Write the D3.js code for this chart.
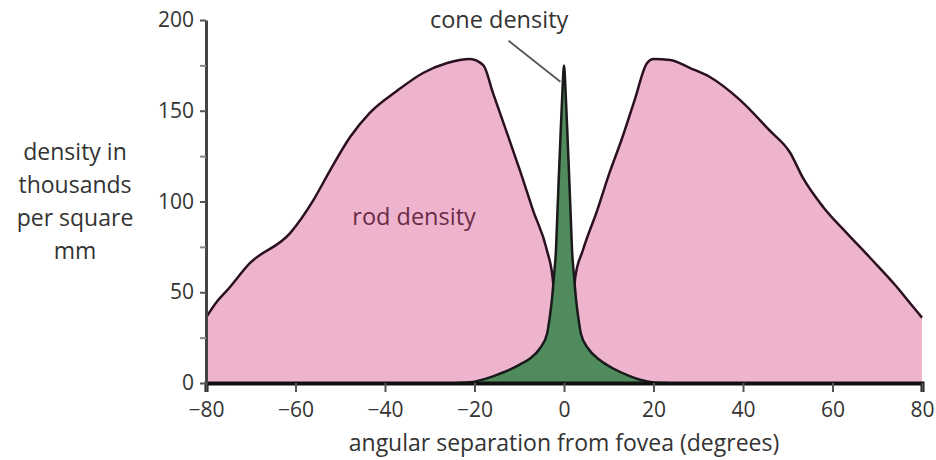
<!DOCTYPE html>
<html>
<head>
<meta charset="utf-8">
<script src="https://cdn.jsdelivr.net/npm/d3@7"></script>
<style>
  body { margin: 0; background: #fff; }
  text { font-family: "Open Sans", "Noto Sans", sans-serif; }
</style>
</head>
<body>
<div id="chart-area"></div>
<script>

// rod density (thousands per square mm) against angle from fovea (degrees)
var rodX = [-80, -77.5, -75.3, -70.2, -61.2, -56, -52.3, -47.8, -43.4, -37.3, -31.5, -26.1, -21,
            -18, -15.9, -13.2, -9.7, -6.9, -3.8, -2.5, -2, -1.2, 0,
            1.2, 2, 2.5, 4.2, 7.4, 10.2, 13, 15.8, 18.5, 20, 23.7, 28.2, 32.6, 39.3, 46, 50.5, 53.4, 57.9, 63.2, 68.4, 74, 78, 80];
var rodY = [36, 45, 51, 66, 82.6, 100.8, 117, 135.5, 148.8, 161, 170.8, 176.3, 178.5,
            175, 160, 141, 116, 95, 73, 57, 40, 15, 0,
            15, 40, 58, 73, 95, 116, 135, 156, 176, 178.5, 178, 173.5, 168.6, 156, 139, 127, 113, 97, 82.6, 69, 54, 42, 36];

// cone density
var coneX = [-24, -21, -18, -15, -12, -10, -7.6, -5.4, -3.8, -3.2, -2.7, -2.2, -1.8, -1.5, -1.1, -0.8, -0.4, 0,
             0.4, 0.8, 1.1, 1.5, 1.8, 2.2, 2.7, 3.2, 3.8, 5.4, 8, 11, 14.7, 17, 20, 23];
var coneY = [0, 0.4, 2, 4.5, 7.5, 10, 13.5, 19, 27, 36, 46, 60, 73, 92, 117, 135, 158, 175,
             158, 135, 117, 92, 73, 60, 46, 36, 27, 19, 12.7, 8, 3.8, 1.8, 0.3, 0];

var xTicks = [-80, -60, -40, -20, 0, 20, 40, 60, 80];
var yTicks = [0, 50, 100, 150, 200];
var yMinorTicks = [25, 75, 125, 175];
var yLabelLines = ["density in", "thousands", "per square", "mm"];

var rodData = rodX.map(function(d, i){ return { x: d, y: rodY[i] }; });
var coneData = coneX.map(function(d, i){ return { x: d, y: coneY[i] }; });

var margin = { left: 206, right: 14, top: 20, bottom: 77 };
var width = 936 - margin.left - margin.right,
    height = 460 - margin.top - margin.bottom;

var svg = d3.select("#chart-area")
    .append("svg")
        .attr("width", 936)
        .attr("height", 460);

var g = svg.append("g")
    .attr("transform", "translate(" + margin.left + ", " + margin.top + ")");

// X Scale
var x = d3.scaleLinear()
    .domain([-80, 80])
    .range([0, width]);

// Y Scale
var y = d3.scaleLinear()
    .domain([0, 200])
    .range([height, 0]);

var area = d3.area()
    .curve(d3.curveMonotoneX)
    .x(function(d){ return x(d.x); })
    .y0(y(0))
    .y1(function(d){ return y(d.y); });

var line = d3.line()
    .curve(d3.curveMonotoneX)
    .x(function(d){ return x(d.x); })
    .y(function(d){ return y(d.y); });

// rods
g.append("path")
    .datum(rodData)
    .attr("fill", "#eeb4ce")
    .attr("d", area);

g.append("path")
    .datum(rodData)
    .attr("fill", "none")
    .attr("stroke", "#2a1020")
    .attr("stroke-width", 2.5)
    .attr("d", line);

// cones
g.append("path")
    .datum(coneData)
    .attr("fill", "#4f8b5d")
    .attr("d", area);

g.append("path")
    .datum(coneData)
    .attr("fill", "none")
    .attr("stroke", "#1a1a1a")
    .attr("stroke-width", 2.5)
    .attr("d", line);

// X Axis
var xAxisGroup = g.append("g")
    .attr("class", "x axis")
    .attr("transform", "translate(0," + height + ")")
    .call(d3.axisBottom(x)
        .tickValues(xTicks)
        .tickSize(9)
        .tickPadding(10)
        .tickFormat(function(d){ return d < 0 ? "\u2212" + Math.abs(d) : d; }));

xAxisGroup.select(".domain")
    .attr("stroke", "#111")
    .attr("stroke-width", 4);
xAxisGroup.selectAll(".tick line")
    .attr("stroke", "#555")
    .attr("stroke-width", 2);
xAxisGroup.selectAll(".tick text")
    .attr("font-size", "21px")
    .attr("fill", "#333");

// Y Axis
var yAxisGroup = g.append("g")
    .attr("class", "y axis")
    .call(d3.axisLeft(y)
        .tickValues(yTicks)
        .tickSize(6)
        .tickSizeOuter(0)
        .tickPadding(6));

yAxisGroup.select(".domain")
    .attr("stroke", "#444")
    .attr("stroke-width", 3);
yAxisGroup.selectAll(".tick line")
    .attr("stroke", "#555")
    .attr("stroke-width", 2);
yAxisGroup.selectAll(".tick text")
    .attr("font-size", "21px")
    .attr("fill", "#333");

g.append("g")
    .call(d3.axisLeft(y).tickValues(yMinorTicks).tickSize(6).tickFormat(""))
    .call(function(s){ s.select(".domain").remove(); })
    .selectAll(".tick line")
        .attr("stroke", "#888")
        .attr("stroke-width", 2);

// X Label
g.append("text")
    .attr("x", x(0))
    .attr("y", height + 68)
    .attr("font-size", "23px")
    .attr("text-anchor", "middle")
    .attr("fill", "#333")
    .text("angular separation from fovea (degrees)");

// Y Label
g.append("text")
    .attr("x", 75 - margin.left)
    .attr("y", 160 - margin.top)
    .attr("font-size", "23px")
    .attr("text-anchor", "middle")
    .attr("fill", "#333")
    .selectAll("tspan")
    .data(yLabelLines)
    .enter()
    .append("tspan")
        .attr("x", 75 - margin.left)
        .attr("dy", function(d, i){ return i == 0 ? 0 : 33; })
        .text(function(d){ return d; });

// rod density label
g.append("text")
    .attr("x", x(-33.5))
    .attr("y", y(87))
    .attr("font-size", "23.5px")
    .attr("text-anchor", "middle")
    .attr("fill", "#6a2a45")
    .text("rod density");

// cone density label + leader
g.append("text")
    .attr("x", x(-14.5))
    .attr("y", y(195.5))
    .attr("font-size", "23.5px")
    .attr("text-anchor", "middle")
    .attr("fill", "#333")
    .text("cone density");

g.append("line")
    .attr("x1", x(-12.4))
    .attr("y1", y(193) + 8)
    .attr("x2", x(-0.8))
    .attr("y2", y(166))
    .attr("stroke", "#555")
    .attr("stroke-width", 1.8);

</script>
</body>
</html>
